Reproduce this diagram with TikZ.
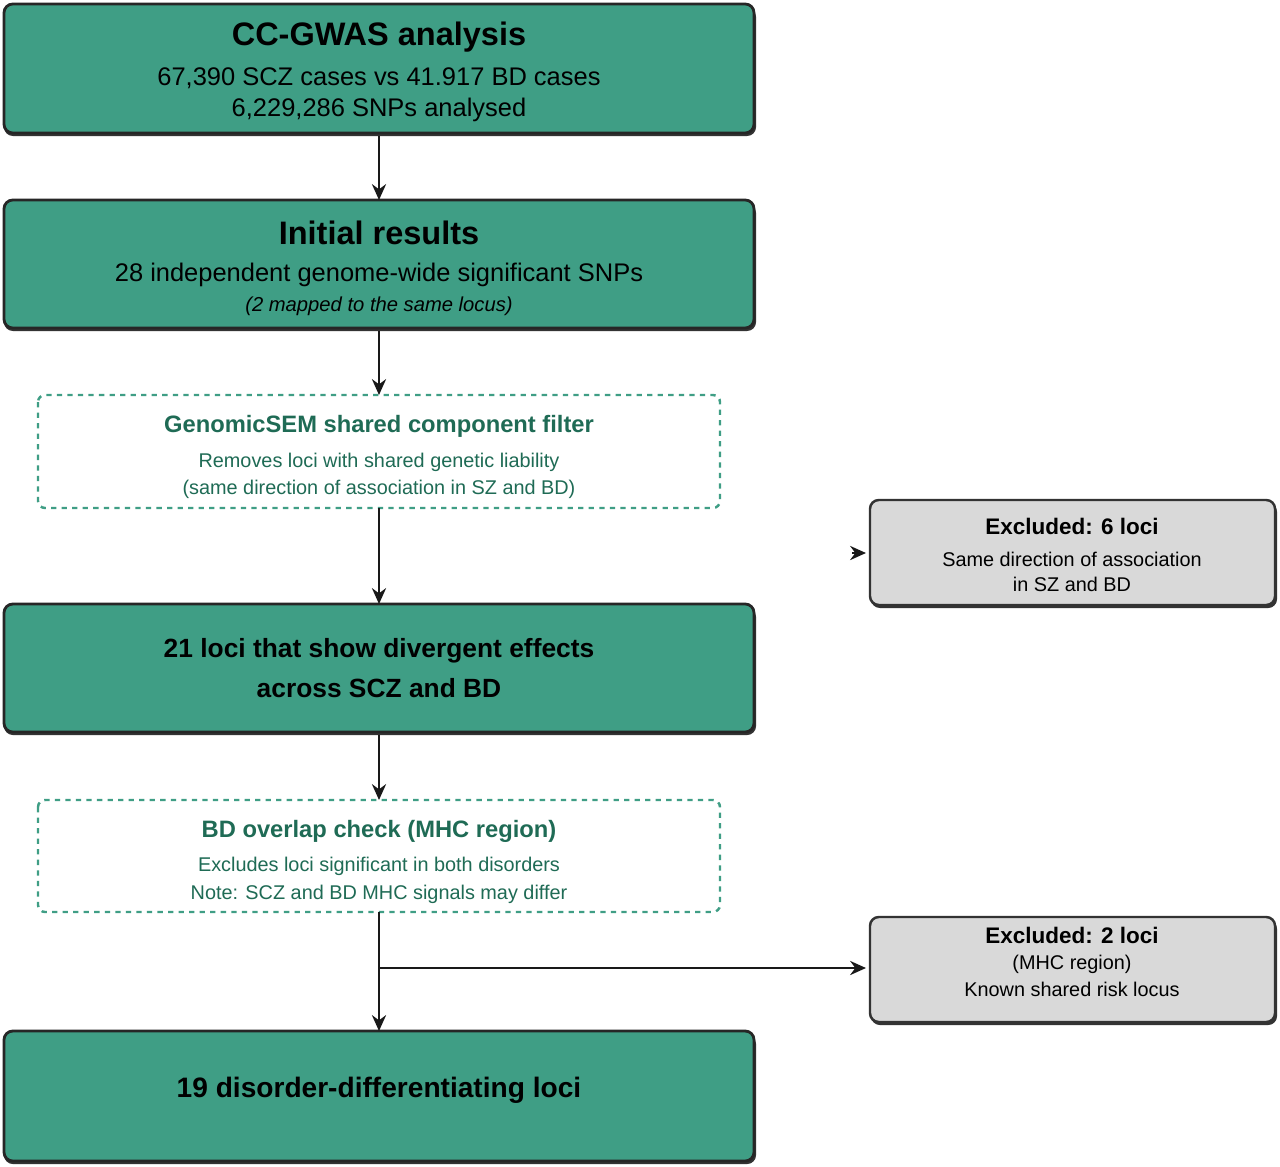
\documentclass[tikz,border=0pt]{standalone}
\usepackage{fontspec}
\setmainfont{Liberation Sans}
\usetikzlibrary{arrows.meta}
\definecolor{gfill}{HTML}{3F9E85}
\definecolor{gdark}{HTML}{1F6B55}
\definecolor{gray1}{HTML}{D9D9D9}
\begin{document}
\begin{tikzpicture}[x=0.02cm,y=-0.02cm,
 gbox/.style={draw=black!85,line width=1.6pt,fill=gfill,rounded corners=5pt},
 dbox/.style={draw=gfill,dashed,line width=1.4pt,fill=white,rounded corners=4pt},
 xbox/.style={draw=black!80,line width=1.4pt,fill=gray1,rounded corners=5pt},
 shadow/.style={fill=black!80,rounded corners=5pt},
 arr/.style={-{Stealth[length=9pt,width=8pt]},line width=1.6pt,black!90},
 t1/.style={font=\fontsize{18.5}{22}\selectfont\bfseries},
 t2/.style={font=\fontsize{14.5}{17}\selectfont},
 t3/.style={font=\fontsize{13.5}{16}\selectfont\bfseries,text=gdark},
 t4/.style={font=\fontsize{11.3}{14}\selectfont,text=gdark},
 t5/.style={font=\fontsize{12.8}{15}\selectfont\bfseries},
 t6/.style={font=\fontsize{11.3}{14}\selectfont}]
\useasboundingbox (0,0) rectangle (1280,1166);
% green boxes
\foreach \ya/\yb/\n in {4/133/b1,200/328/b2,604/732/b4,1031/1161/b6}{
 \fill[shadow] (4,\ya+4) rectangle (756,\yb+3);
 \draw[gbox] (4,\ya) rectangle (754,\yb);
 \coordinate (\n t) at (379,\ya); \coordinate (\n b) at (379,\yb+3);}
\draw[dbox] (38,395) rectangle (720,508);
\draw[dbox] (38,800) rectangle (720,912);
\coordinate (b3t) at (379,395); \coordinate (b3b) at (379,508);
\coordinate (b5t) at (379,800); \coordinate (b5b) at (379,912);
\foreach \ya/\yb in {500/605,917/1022}{
 \fill[shadow] (871,\ya+3) rectangle (1277,\yb+3);
 \draw[xbox] (870,\ya) rectangle (1275,\yb);}
\coordinate (x1l) at (866,553); \coordinate (x2l) at (866,968);
% texts
\node[t1] (n1) at (379,37) {CC-GWAS analysis};
\node[t2] (n1a) at (379,78) {67,390 SCZ cases vs 41.917 BD cases};
\node[t2] (n1b) at (379,110) {6,229,286 SNPs analysed};
\node[t1] (n2) at (379,233) {Initial results};
\node[t2] (n2a) at (379,275) {28 independent genome-wide significant SNPs};
\node[t6,font=\fontsize{11.5}{14}\selectfont\itshape] (n2b) at (379,306) {(2 mapped to the same locus)};
\node[t3] (n3) at (379,426) {GenomicSEM shared component filter};
\node[t4] (n3a) at (379,462) {Removes loci with shared genetic liability};
\node[t4] (n3b) at (379,489) {(same direction of association in SZ and BD)};
\node[t2,font=\fontsize{15}{18}\selectfont\bfseries] (n4a) at (379,651) {21 loci that show divergent effects};
\node[t2,font=\fontsize{15}{18}\selectfont\bfseries] (n4b) at (379,688) {across SCZ and BD};
\node[t3] (n5) at (379,831) {BD overlap check (MHC region)};
\node[t4] (n5a) at (379,866) {Excludes loci significant in both disorders};
\node[t4] (n5b) at (379,894) {Note: SCZ and BD MHC signals may differ};
\node[t2,font=\fontsize{16}{19}\selectfont\bfseries] (n6) at (379,1090) {19 disorder-differentiating loci};
\node[t5] (e1) at (1072,526) {Excluded: 6 loci};
\node[t6] (e1a) at (1072,559) {Same direction of association};
\node[t6] (e1b) at (1072,584) {in SZ and BD};
\node[t5] (e2) at (1072,935) {Excluded: 2 loci};
\node[t6] (e2a) at (1072,964) {(MHC region)};
\node[t6] (e2b) at (1072,989) {Known shared risk locus};
% arrows
\draw[arr] (b1b) -- (b2t);
\draw[arr] (b2b) -- (b3t);
\draw[arr] (b3b) -- (b4t);
\draw[arr] (b4b) -- (b5t);
\draw[arr] (b5b) -- (b6t);
\coordinate (j) at (379,968);
\draw[arr] (j) -- (x2l);
\coordinate (s1) at (852,553);
\draw[arr] (s1) -- (x1l);
\end{tikzpicture}
\end{document}
